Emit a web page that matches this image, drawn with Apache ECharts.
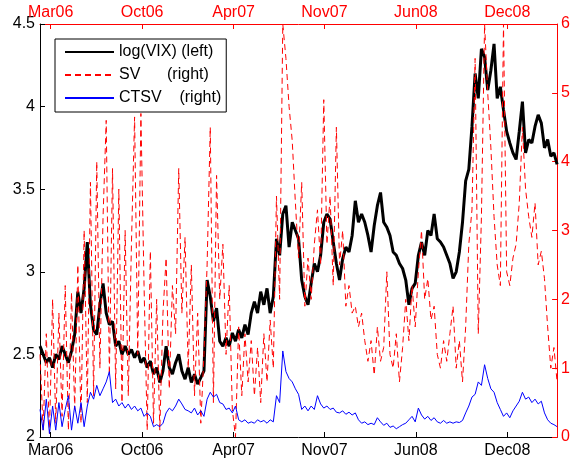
<!DOCTYPE html>
<html>
<head>
<meta charset="utf-8">
<script src="https://cdn.jsdelivr.net/npm/echarts@6/dist/echarts.min.js"></script>
<style>
  html, body { margin: 0; padding: 0; background: #fff; }
  #chart { width: 573px; height: 461px; }
</style>
</head>
<body>
<div id="chart"></div>
<script>
// Weekly samples (every 5 trading days) from March 2006 to mid 2009.
const STEP = 5;
const LAST_DAY = 820;

// Date ticks, in trading days from the first observation.
const tickDays = [17, 162, 307, 451, 596, 741];
const tickLabels = ['Mar06', 'Oct06', 'Apr07', 'Nov07', 'Jun08', 'Dec08'];

// log of the VIX index (left axis)
const logVix = [
  2.55, 2.50, 2.45, 2.48, 2.42, 2.50, 2.47, 2.55, 2.50, 2.45,
  2.52, 2.62, 2.88, 2.75, 2.90, 3.18, 2.80, 2.65, 2.62, 2.80,
  2.93, 2.75, 2.68, 2.70, 2.55, 2.58, 2.50, 2.55, 2.50, 2.53,
  2.48, 2.52, 2.45, 2.48, 2.42, 2.46, 2.38, 2.42, 2.33, 2.40,
  2.55, 2.42, 2.38, 2.45, 2.50, 2.40, 2.35, 2.42, 2.33, 2.38,
  2.32, 2.36, 2.40, 2.95, 2.85, 2.70, 2.78, 2.58, 2.55, 2.60,
  2.55, 2.63, 2.58, 2.65, 2.60, 2.68, 2.62, 2.75, 2.82, 2.75,
  2.88, 2.80, 2.90, 2.75, 2.85, 3.20, 3.10, 3.35, 3.40, 3.15,
  3.30, 3.25, 3.20, 2.95, 2.85, 2.80, 2.93, 3.05, 3.00, 3.10,
  3.30, 3.35, 3.32, 3.18, 3.05, 2.95, 3.08, 3.15, 3.12, 3.22,
  3.43, 3.30, 3.35, 3.30, 3.22, 3.12, 3.28, 3.40, 3.48, 3.30,
  3.27, 3.22, 3.12, 3.10, 3.05, 3.02, 2.95, 2.80, 2.90, 2.93,
  3.10, 3.18, 3.10, 3.25, 3.22, 3.35, 3.20, 3.18, 3.15, 3.10,
  3.05, 2.96, 3.00, 3.12, 3.30, 3.55, 3.62, 3.88, 4.20, 4.05,
  4.35, 4.30, 4.10, 4.22, 4.38, 4.05, 4.12, 3.98, 3.85, 3.78,
  3.72, 3.68, 3.85, 4.03, 3.72, 3.80, 3.78, 3.88, 3.95, 3.90,
  3.75, 3.80, 3.70, 3.72, 3.65
];

// SV estimate (right axis)
const sv = [
  1.2, 0.1, 1.5, 0.05, 2.0, 0.2, 1.8, 0.3, 2.2, 0.1,
  2.1, 0.4, 2.5, 0.2, 3.0, 0.5, 3.7, 0.6, 4.0, 1.0,
  3.2, 4.6, 0.9, 3.9, 0.7, 3.6, 0.5, 3.0, 0.6, 2.8,
  4.65, 1.2, 4.7, 2.2, 0.1, 2.7, 0.2, 2.0, 0.1, 1.8,
  2.6, 0.7, 2.2, 1.5, 3.9, 1.8, 2.9, 1.0, 2.5, 0.6,
  1.8, 0.2, 1.2, 2.5, 4.5, 0.5, 3.8, 2.0, 2.8, 1.2,
  2.2, 0.4, 0.0, 1.6, 0.6, 1.5, 0.8, 1.4, 0.6, 1.3,
  0.5, 1.5, 0.8, 1.7, 1.0, 3.5, 2.0, 6.0, 5.5, 4.8,
  4.3, 3.4, 2.6, 3.7, 1.9, 2.6, 2.0, 2.8, 3.3, 2.5,
  4.9, 2.8, 3.5, 2.2, 4.5, 2.5, 3.0, 1.9, 2.2, 1.8,
  1.9, 1.6, 1.8, 1.4, 1.1, 1.4, 0.9, 1.6, 1.1, 1.3,
  2.4, 1.2, 1.0, 1.5, 0.8, 1.3, 2.0, 1.4, 2.2, 1.6,
  2.4, 3.0, 2.0, 2.3, 1.7, 1.9, 1.2, 1.0, 1.4, 1.1,
  1.5, 1.9, 1.0, 1.4, 0.8, 1.6, 2.8, 3.3, 5.5, 1.5,
  3.2, 6.0, 5.0, 4.2, 3.2, 2.5, 2.2, 6.0, 2.4, 2.2,
  2.6, 2.8, 3.4, 4.5, 3.6, 3.2, 2.9, 3.4, 2.5, 2.7,
  2.3, 1.6, 1.0, 1.3, 0.8
];

// CTSV estimate (right axis)
const ctsv = [
  0.40, 0.10, 0.55, 0.05, 0.45, 0.10, 0.50, 0.15, 0.40, 0.60,
  0.10, 0.45, 0.20, 0.50, 0.15, 0.45, 0.65, 0.55, 0.75, 0.60,
  0.70, 0.80, 0.95, 0.50, 0.55, 0.45, 0.50, 0.42, 0.48, 0.40,
  0.45, 0.38, 0.42, 0.30, 0.35, 0.30, 0.15, 0.18, 0.15, 0.20,
  0.35, 0.42, 0.38, 0.45, 0.55, 0.48, 0.40, 0.38, 0.35, 0.42,
  0.32, 0.38, 0.30, 0.55, 0.65, 0.58, 0.62, 0.50, 0.48, 0.40,
  0.42, 0.35, 0.45, 0.25, 0.22, 0.25, 0.20, 0.22, 0.20, 0.25,
  0.22, 0.24, 0.20, 0.25, 0.22, 0.60, 0.50, 1.25, 0.95, 0.85,
  0.80, 0.70, 0.62, 0.40, 0.45, 0.38, 0.45, 0.40, 0.60, 0.48,
  0.42, 0.45, 0.40, 0.42, 0.36, 0.35, 0.38, 0.33, 0.36, 0.32,
  0.35, 0.25, 0.20, 0.22, 0.18, 0.20, 0.18, 0.28, 0.22, 0.17,
  0.20, 0.14, 0.16, 0.12, 0.15, 0.18, 0.20, 0.25, 0.30, 0.22,
  0.42, 0.32, 0.26, 0.30, 0.24, 0.28, 0.22, 0.20, 0.24, 0.20,
  0.22, 0.20, 0.22, 0.21, 0.24, 0.35, 0.45, 0.58, 0.62, 0.80,
  0.75, 1.05, 0.85, 0.70, 0.65, 0.50, 0.40, 0.30, 0.35, 0.28,
  0.38, 0.45, 0.52, 0.65, 0.55, 0.58, 0.50, 0.55, 0.48, 0.52,
  0.35, 0.25, 0.20, 0.18, 0.15
];

const FONT = "'Liberation Sans', Arial, Helvetica, sans-serif";
const RED = '#ff0000';

const pairs = arr => arr.map((v, i) => [i * STEP, v]);
const dayLabel = v => {
  const k = tickDays.indexOf(v);
  return k >= 0 ? tickLabels[k] : '';
};

const chart = echarts.init(document.getElementById('chart'), null, { renderer: 'canvas' });

chart.setOption({
  animation: false,
  backgroundColor: '#fff',
  textStyle: { fontFamily: FONT },
  grid: { left: 40, right: 14, top: 24, bottom: 24, containLabel: false },
  legend: {
    orient: 'vertical',
    left: 55,
    top: 39,
    padding: [5, 5, 6, 9],
    itemWidth: 49,
    itemHeight: 16,
    itemGap: 7,
    backgroundColor: '#fff',
    borderColor: '#000',
    borderWidth: 1,
    borderRadius: 0,
    // plain line samples, no marker in the middle
    itemStyle: { opacity: 0, borderWidth: 0 },
    textStyle: { fontFamily: FONT, fontSize: 16, color: '#000' },
    data: ['log(VIX) (left)', 'SV      (right)', 'CTSV    (right)']
  },
  xAxis: [
    {
      type: 'value', position: 'bottom', min: 0, max: LAST_DAY,
      axisLine: { show: true, onZero: false, lineStyle: { color: '#000', width: 1 } },
      axisTick: { show: true, inside: true, length: 5, customValues: tickDays, lineStyle: { color: '#000' } },
      axisLabel: { customValues: tickDays, formatter: dayLabel, color: '#000', fontSize: 16, fontFamily: FONT, margin: 6 },
      splitLine: { show: false }
    },
    {
      type: 'value', position: 'top', min: 0, max: LAST_DAY,
      axisLine: { show: true, onZero: false, lineStyle: { color: RED, width: 1 } },
      axisTick: { show: true, inside: true, length: 5, customValues: tickDays, lineStyle: { color: RED } },
      axisLabel: { customValues: tickDays, formatter: dayLabel, color: RED, fontSize: 16, fontFamily: FONT, margin: 3 },
      splitLine: { show: false }
    }
  ],
  yAxis: [
    {
      type: 'value', position: 'left', min: 2, max: 4.5, interval: 0.5,
      axisLine: { show: true, onZero: false, lineStyle: { color: '#000', width: 1 } },
      axisTick: { show: true, inside: true, length: 5, lineStyle: { color: '#000' } },
      axisLabel: { color: '#000', fontSize: 16, fontFamily: FONT, margin: 5 },
      splitLine: { show: false }
    },
    {
      type: 'value', position: 'right', min: 0, max: 6, interval: 1,
      axisLine: { show: true, onZero: false, lineStyle: { color: RED, width: 1 } },
      axisTick: { show: true, inside: true, length: 5, lineStyle: { color: RED } },
      axisLabel: { color: RED, fontSize: 16, fontFamily: FONT, margin: 4 },
      splitLine: { show: false }
    }
  ],
  series: [
    {
      name: 'log(VIX) (left)', type: 'line', xAxisIndex: 0, yAxisIndex: 0,
      data: pairs(logVix), symbol: 'none', z: 2,
      lineStyle: { color: '#000', width: 3 }, itemStyle: { color: '#000' }
    },
    {
      name: 'SV      (right)', type: 'line', xAxisIndex: 0, yAxisIndex: 1,
      data: pairs(sv), symbol: 'none', z: 3,
      lineStyle: { color: RED, width: 1, type: [6, 4] }, itemStyle: { color: RED }
    },
    {
      name: 'CTSV    (right)', type: 'line', xAxisIndex: 0, yAxisIndex: 1,
      data: pairs(ctsv), symbol: 'none', z: 4,
      lineStyle: { color: '#0000ff', width: 1 }, itemStyle: { color: '#0000ff' }
    }
  ]
});
</script>
</body>
</html>
